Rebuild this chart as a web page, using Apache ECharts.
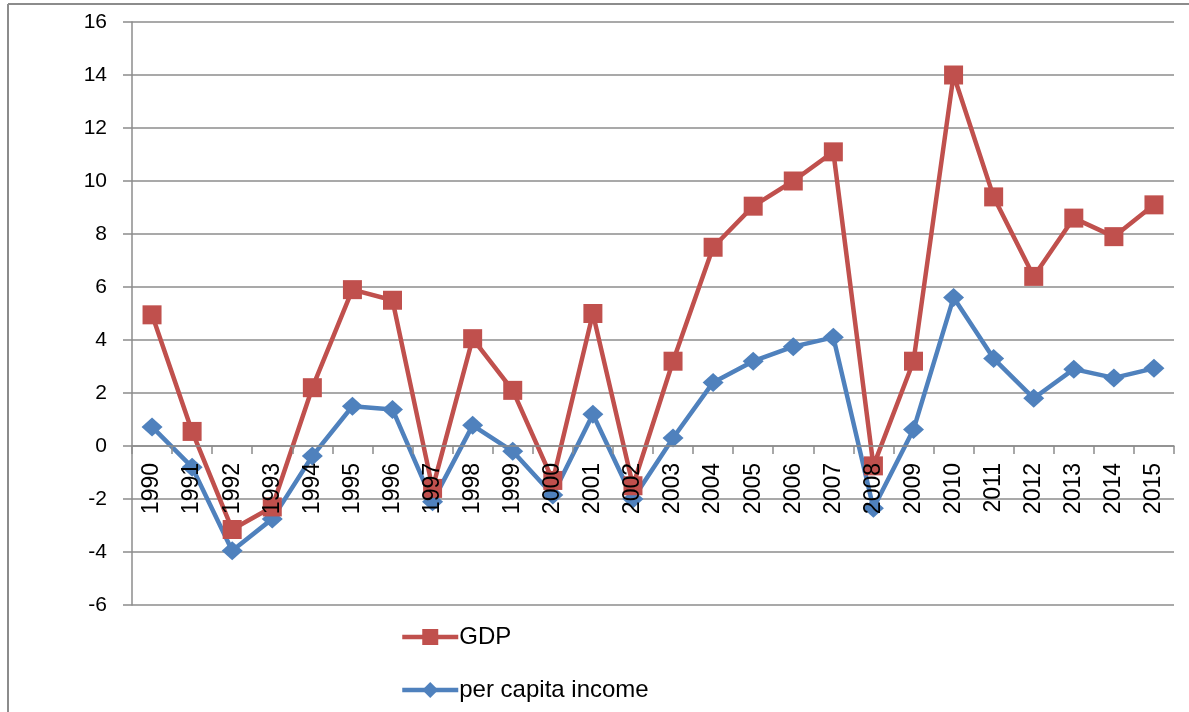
<!DOCTYPE html>
<html>
<head>
<meta charset="utf-8">
<style>html,body{margin:0;padding:0;background:#fff}#c{width:1189px;height:712px}</style>
<script src="https://cdn.jsdelivr.net/npm/echarts@6/dist/echarts.min.js"></script>
</head>
<body>
<div id="c"></div>
<script>
const years = ["1990","1991","1992","1993","1994","1995","1996","1997","1998","1999","2000","2001","2002","2003","2004","2005","2006","2007","2008","2009","2010","2011","2012","2013","2014","2015"];
const gdp = [4.95,0.55,-3.15,-2.3,2.2,5.9,5.5,-1.6,4.05,2.1,-1.3,5.0,-1.5,3.2,7.5,9.05,10.0,11.1,-0.75,3.2,14.0,9.4,6.4,8.6,7.9,9.1];
const perCapita = [0.72,-0.8,-3.95,-2.75,-0.38,1.5,1.38,-2.1,0.78,-0.2,-1.85,1.2,-2.0,0.3,2.4,3.2,3.75,4.1,-2.35,0.62,5.6,3.3,1.8,2.9,2.57,2.93];
const yTicks = {min: -6, max: 16, step: 2};

const FONT = "Liberation Sans";
const GRID_TOP = 22, GRID_BOTTOM = 107, H = 712;
const plotH = H - GRID_TOP - GRID_BOTTOM;
// move the category axis up so that it sits on the zero line
const zeroOffset = -plotH * (0 - yTicks.min) / (yTicks.max - yTicks.min);

const chart = echarts.init(document.getElementById('c'), null, {renderer: 'canvas'});
chart.setOption({
  animation: false,
  backgroundColor: '#fff',
  textStyle: {fontFamily: FONT, color: '#000'},
  grid: {left: 132, right: 15, top: GRID_TOP, bottom: GRID_BOTTOM, containLabel: false},
  legend: {
    orient: 'vertical', left: 400, top: 625, height: 87, padding: 0, itemGap: 29,
    itemWidth: 56, itemHeight: 20,
    lineStyle: {width: 4.5},
    textStyle: {fontSize: 24, lineHeight: 24, color: '#000', fontFamily: FONT, padding: [0,0,0,-4]},
    data: ['GDP', 'per capita income']
  },
  xAxis: {
    type: 'category', data: years, boundaryGap: true, z: 10,
    offset: zeroOffset,
    axisLine: {onZero: false, lineStyle: {color: '#8c8c8c', width: 1.5}},
    axisTick: {show: true, length: 8, lineStyle: {color: '#8c8c8c', width: 1.5}},
    axisLabel: {rotate: 90, fontSize: 23, color: '#000', margin: 17, fontFamily: FONT, interval: 0},
    splitLine: {show: false}
  },
  yAxis: {
    type: 'value', min: yTicks.min, max: yTicks.max, interval: yTicks.step,
    axisLine: {show: true, lineStyle: {color: '#8c8c8c', width: 1.5}},
    axisTick: {show: true, length: 9, lineStyle: {color: '#8c8c8c', width: 1.5}},
    axisLabel: {fontSize: 21, color: '#000', margin: 25, fontFamily: FONT},
    splitLine: {show: true, lineStyle: {color: '#8c8c8c', width: 1.5}}
  },
  series: [
    {
      name: 'GDP', type: 'line', data: gdp, symbol: 'rect', symbolSize: 19,
      lineStyle: {color: '#C0504D', width: 4.5}, itemStyle: {color: '#C0504D'},
      z: 3
    },
    {
      name: 'per capita income', type: 'line', data: perCapita, symbol: 'diamond', symbolSize: [21, 19],
      lineStyle: {color: '#4F81BD', width: 4.5}, itemStyle: {color: '#4F81BD'},
      z: 2
    }
  ],
  graphic: [
    {type: 'line', shape: {x1: 8, y1: 4, x2: 1189, y2: 4}, style: {stroke: '#8c8c8c', lineWidth: 2}},
    {type: 'line', shape: {x1: 8, y1: 4, x2: 8, y2: 712}, style: {stroke: '#8c8c8c', lineWidth: 2}}
  ]
});
</script>
</body>
</html>
